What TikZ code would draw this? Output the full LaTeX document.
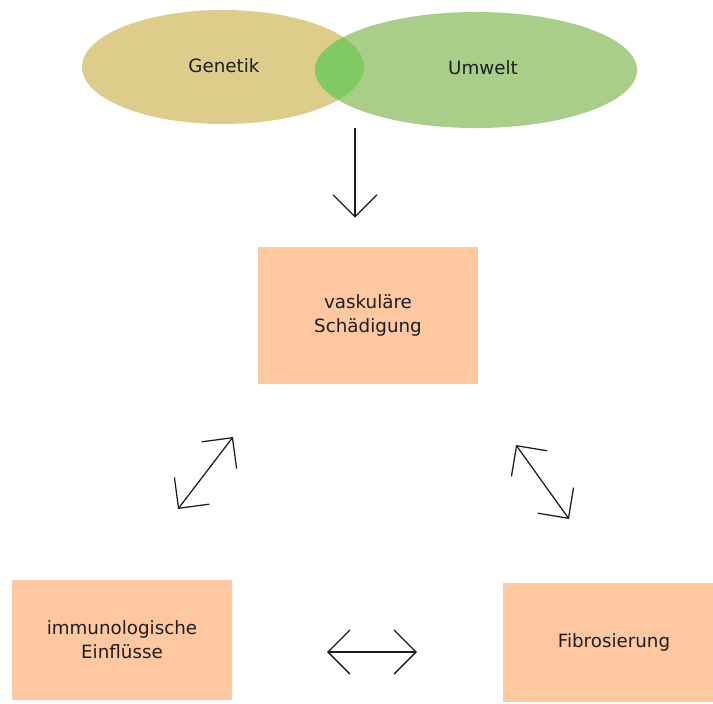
\documentclass[tikz,border=0pt]{standalone}
\usepackage{fontspec}
\setmainfont{DejaVu Sans}
\usepackage{tikz}
\usetikzlibrary{arrows.meta,positioning,shapes.geometric}
\definecolor{genetikgold}{RGB}{222,204,138}
\definecolor{umweltgreen}{RGB}{168,206,138}
\definecolor{overlapgreen}{RGB}{128,202,98}
\definecolor{boxpeach}{RGB}{255,200,160}
\definecolor{inkgray}{RGB}{30,30,30}

\begin{document}
\begin{tikzpicture}[
  x=0.025cm, y=-0.025cm,
  every node/.style={font=\fontsize{13}{17}\selectfont, text=inkgray},
  circ/.style={ellipse, inner sep=0pt},
  box/.style={rectangle, fill=boxpeach, align=center, inner sep=0pt},
  arrow/.style={{Straight Barb[length=0.55cm,width=1.1cm]}-{Straight Barb[length=0.55cm,width=1.1cm]}, line width=0.9pt, draw=inkgray},
  downarrow/.style={-{Straight Barb[length=0.55cm,width=1.1cm]}, line width=0.9pt, draw=inkgray}
]
\useasboundingbox (0,0) rectangle (713,704);

% Venn pair
\node[circ, fill=genetikgold, minimum width=7.05cm, minimum height=2.85cm] (gen) at (223,67) {};
\node[circ, fill=umweltgreen, minimum width=8.05cm, minimum height=2.9cm] (umw) at (476,70) {};
\begin{scope}
  \clip (223,67) ellipse [x radius=141, y radius=57];
  \fill[overlapgreen] (476,70) ellipse [x radius=161, y radius=58];
\end{scope}
\node at (224,66) {Genetik};
\node at (483,68) {Umwelt};

% boxes
\node[box, minimum width=5.5cm, minimum height=3.425cm] (vask) at (368,315.5) {vaskuläre\\Schädigung};
\node[box, minimum width=5.5cm, minimum height=3.0cm] (immun) at (122,640) {immunologische\\Einflüsse};
\node[box, minimum width=5.25cm, minimum height=2.975cm] (fibro) at (608,642.5) {\hspace{0.3cm}Fibrosierung};

% connectors
\coordinate (src) at (355,128);
\draw[downarrow, shorten >=0.725cm] (src) -- (src |- vask.north);

\coordinate (la) at (178,509);
\coordinate (lb) at (233,437);
\draw[arrow] (la) -- (lb);

\coordinate (ra) at (516,445);
\coordinate (rb) at (569,519);
\draw[arrow] (ra) -- (rb);

\coordinate (ha) at (327,652);
\coordinate (hb) at (417,652);
\draw[arrow] (ha) -- (hb);

\end{tikzpicture}
\end{document}
